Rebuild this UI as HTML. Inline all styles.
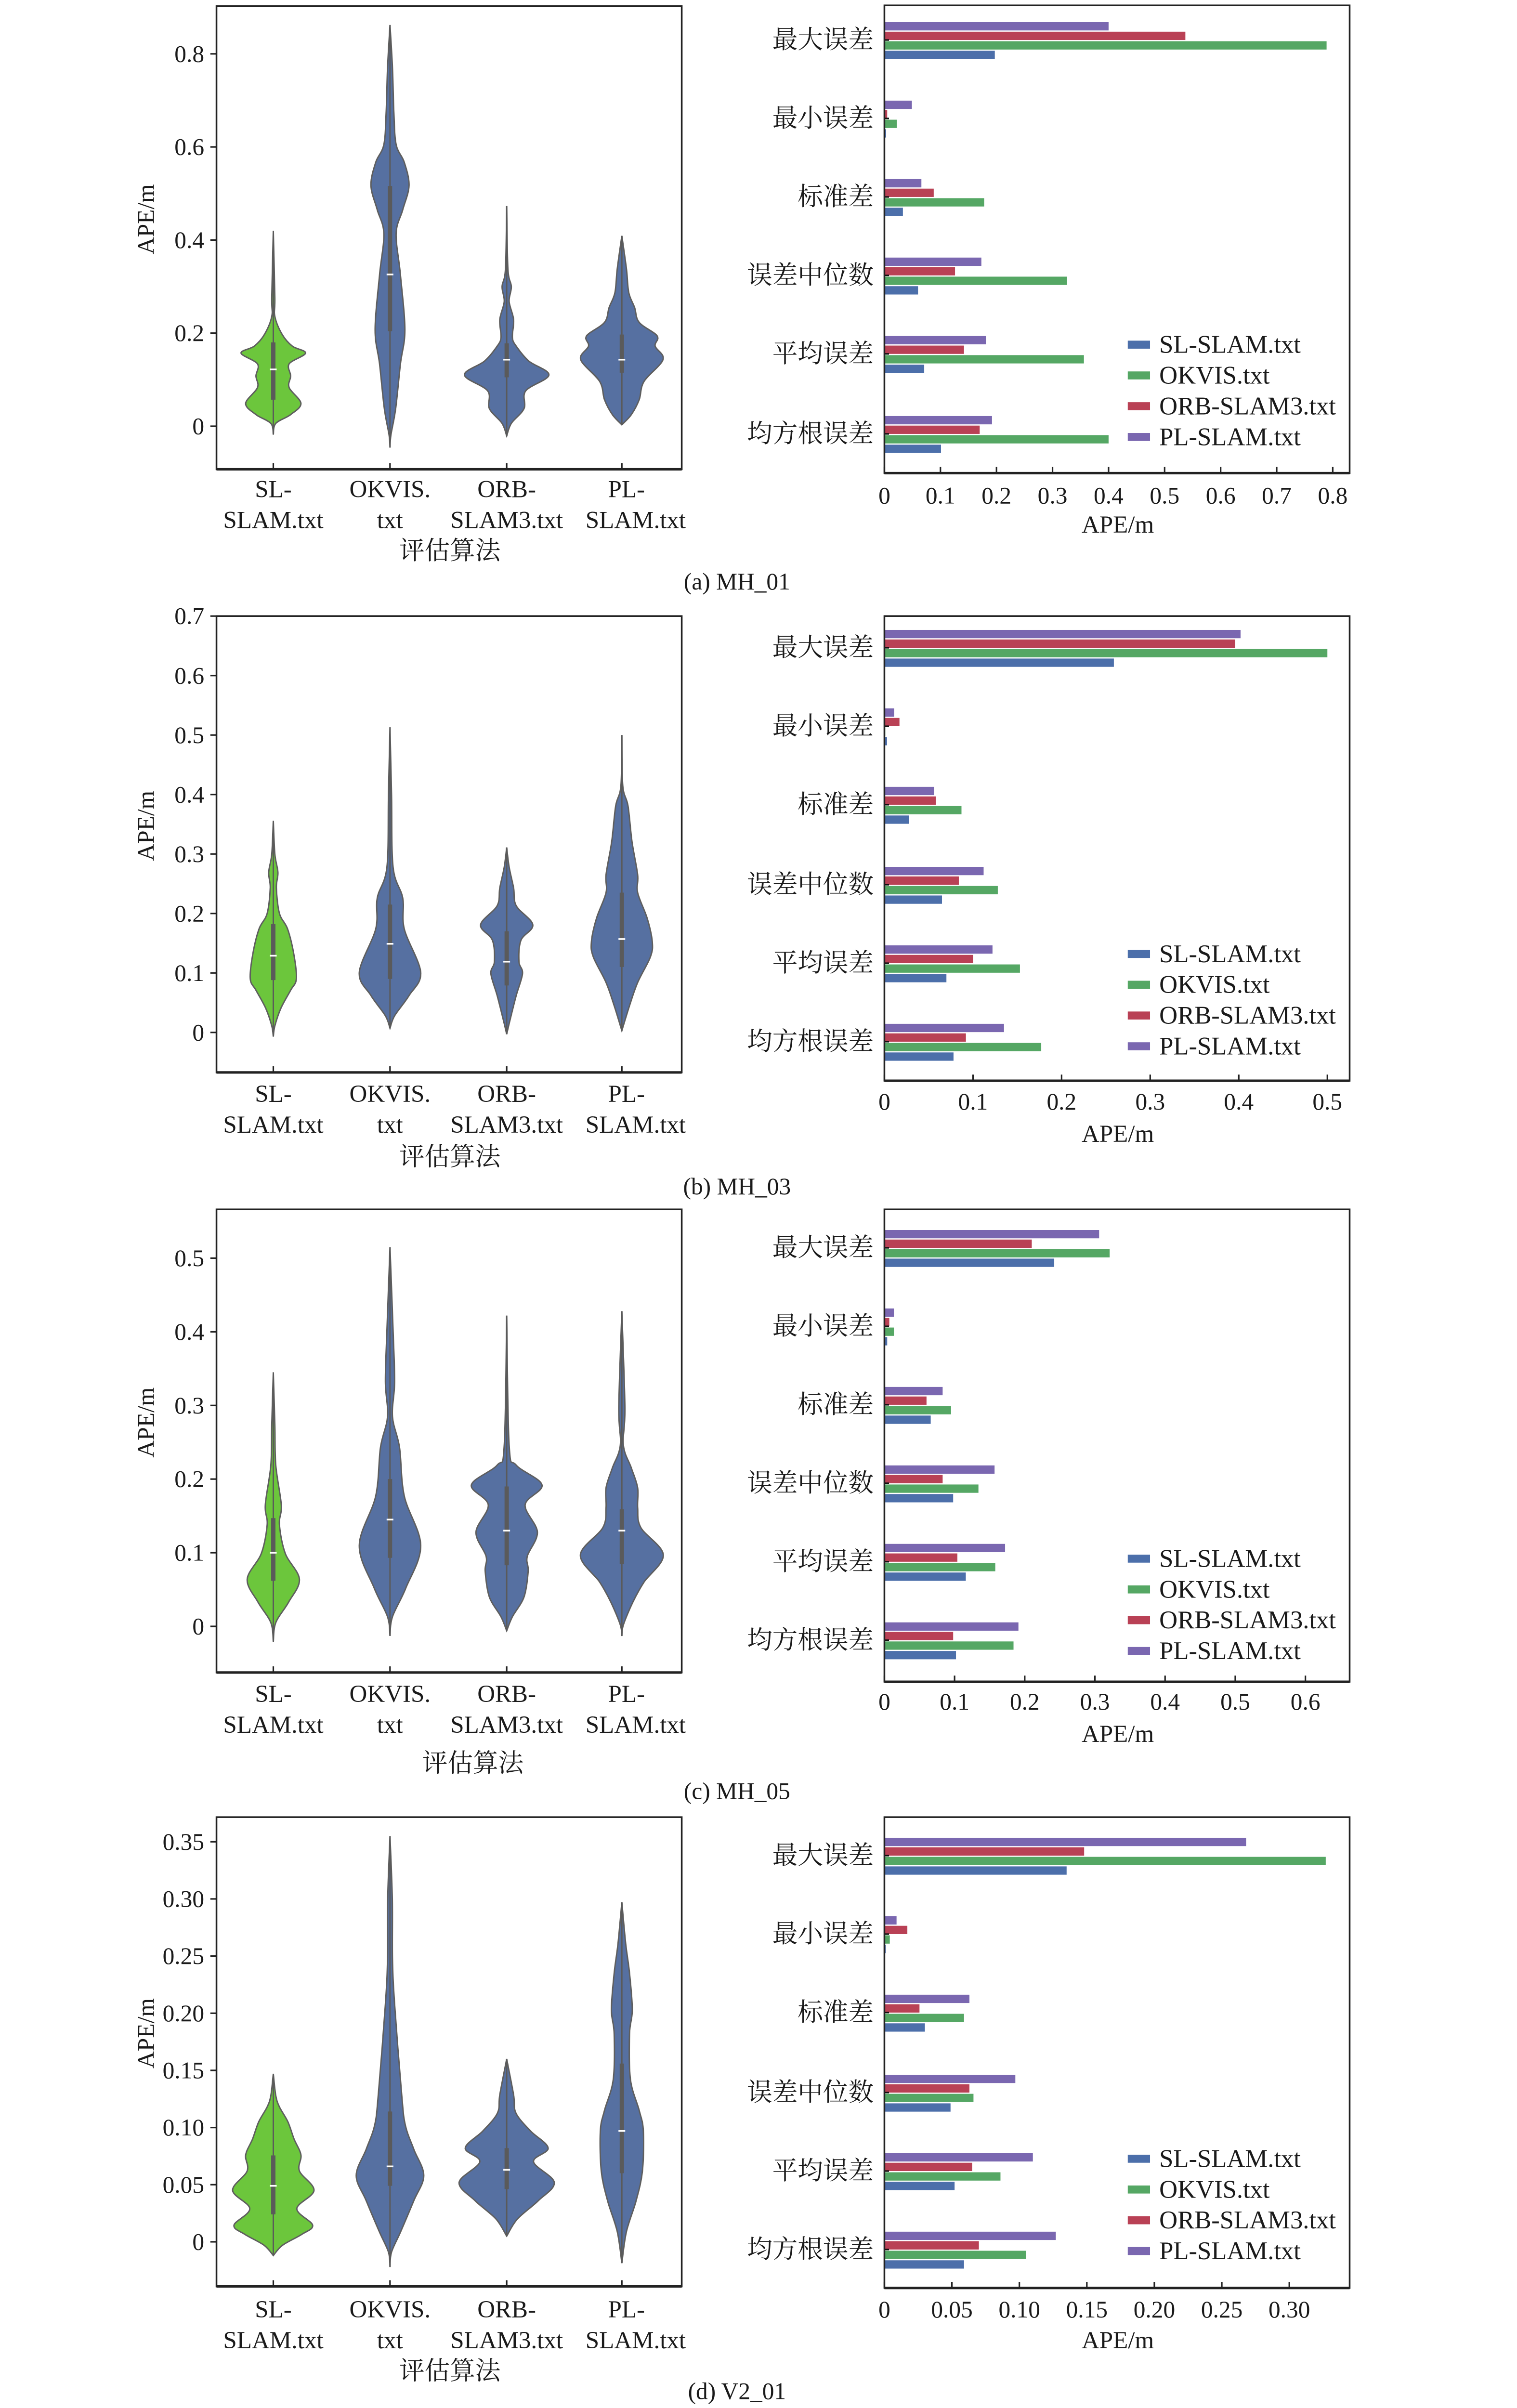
<!DOCTYPE html>
<html><head><meta charset="utf-8">
<style>
html,body{margin:0;padding:0;background:#fff;overflow:hidden;}
svg{display:block;position:fixed;left:0;top:0;width:100vw;height:100vh;}
text{font-family:"Liberation Serif","Noto Serif CJK SC","Noto Sans CJK SC",serif;fill:#1a1a1a;}
</style></head>
<body>
<svg id="fig" xmlns="http://www.w3.org/2000/svg" viewBox="0 0 988 1565" preserveAspectRatio="none"></svg>
<script>
// ---------- DATA ----------
const algorithms = ["SL-SLAM.txt","OKVIS.txt","ORB-SLAM3.txt","PL-SLAM.txt"];
const metricNames = ["最大误差","最小误差","标准差","误差中位数","平均误差","均方根误差"];
const panelCaptions = ["(a) MH_01","(b) MH_03","(c) MH_05","(d) V2_01"];

const barsA_SL    = [0.197,0.003,0.033,0.060,0.071,0.101];
const barsA_OKVIS = [0.789,0.022,0.178,0.326,0.356,0.400];
const barsA_ORB   = [0.537,0.005,0.088,0.126,0.142,0.170];
const barsA_PL    = [0.400,0.049,0.066,0.173,0.181,0.192];
const barsB_SL    = [0.259,0.003,0.028,0.065,0.070,0.078];
const barsB_OKVIS = [0.500,0.001,0.087,0.128,0.153,0.177];
const barsB_ORB   = [0.396,0.017,0.058,0.084,0.100,0.092];
const barsB_PL    = [0.402,0.011,0.056,0.112,0.122,0.135];
const barsC_SL    = [0.242,0.004,0.066,0.098,0.116,0.102];
const barsC_OKVIS = [0.321,0.0135,0.095,0.134,0.158,0.184];
const barsC_ORB   = [0.210,0.007,0.060,0.083,0.104,0.098];
const barsC_PL    = [0.306,0.0135,0.083,0.157,0.172,0.191];
const barsD_SL    = [0.135,0.001,0.030,0.049,0.052,0.059];
const barsD_OKVIS = [0.327,0.004,0.059,0.066,0.086,0.105];
const barsD_ORB   = [0.148,0.017,0.026,0.063,0.065,0.070];
const barsD_PL    = [0.268,0.009,0.063,0.097,0.110,0.127];

const vA_SL_v = [0.42,0.277,0.236,0.197,0.172,0.157,0.134,0.108,0.083,0.049,0.025,0.006,-0.018];
const vA_SL_w = [0,1,1,5.8,12.4,21,10.3,11.3,10.3,18,11.3,1.6,0];
const vA_OK_v = [0.862,0.77,0.675,0.605,0.567,0.517,0.465,0.414,0.325,0.207,0.134,0.038,-0.019,-0.046];
const vA_OK_w = [0,1.6,2.5,4,9.3,12.4,8.3,4,6.8,9.7,6.8,3.7,0.6,0];
const vA_ORB_v = [0.473,0.338,0.3,0.268,0.229,0.191,0.172,0.14,0.11,0.076,0.038,0.006,-0.021];
const vA_ORB_w = [0,0.8,3,1.6,4.5,3.7,6.2,14.4,27.5,12.4,11.3,3,0];
const vA_PL_v = [0.409,0.338,0.287,0.255,0.223,0.194,0.172,0.143,0.096,0.057,0.025,0.003];
const vA_PL_w = [0,3,4.5,8.3,11.3,23,21.7,26.8,14.4,11.3,6.2,0];

const vB_SL_v = [0.356,0.3,0.269,0.243,0.2,0.174,0.131,0.09,0.071,0.041,0.011,-0.007];
const vB_SL_w = [0,1,3,2,4,9.3,13.4,15,11.3,5,1,0];
const vB_OK_v = [0.513,0.4,0.278,0.226,0.174,0.101,0.062,0.028,0.007];
const vB_OK_w = [0,1,2,8.3,9.3,20,12.4,3,0];
const vB_ORB_v = [0.311,0.278,0.243,0.213,0.181,0.155,0.119,0.099,0.062,0.019,-0.003];
const vB_ORB_w = [0,1.6,4.5,6.2,17,9.3,8,10.3,6.2,2,0];
const vB_PL_v = [0.5,0.415,0.381,0.321,0.265,0.235,0.192,0.153,0.127,0.084,0.045,0.003];
const vB_PL_w = [0,0.6,4,6.6,10.3,10.3,16.5,19.8,18.6,10.3,5,0];

const vC_SL_v = [0.345,0.274,0.219,0.165,0.138,0.099,0.064,0.033,0.005,-0.021];
const vC_SL_w = [0,1,1.6,5.2,4,7.8,17,10,1.6,0];
const vC_OK_v = [0.515,0.402,0.332,0.285,0.243,0.177,0.11,0.052,0.013,-0.013];
const vC_OK_w = [0,2,3,1.6,6.2,9.3,20,10.3,1.6,0];
const vC_ORB_v = [0.422,0.246,0.219,0.192,0.165,0.128,0.095,0.075,0.04,0.013,-0.006];
const vC_ORB_w = [0,1.6,6.2,23,12,20,13.4,14,11.3,3.7,0];
const vC_PL_v = [0.428,0.297,0.246,0.215,0.188,0.161,0.134,0.097,0.06,0.033,0.002,-0.013];
const vC_PL_w = [0,2,1,6.2,10.3,10.3,12.4,27,14.4,7.2,1,0];

const vD_SL_v = [0.147,0.128,0.118,0.105,0.09,0.076,0.062,0.045,0.029,0.0146,0.0066,-0.003,-0.012];
const vD_SL_w = [0,1.6,4,9.5,13.5,18,17,26.5,15.3,25.6,18.6,6,0];
const vD_OK_v = [0.355,0.30,0.248,0.208,0.129,0.102,0.081,0.058,0.036,0.009,-0.009,-0.022];
const vD_OK_w = [0,1.5,1.6,3,7.6,10,15.5,22,15.5,7,1,0];
const vD_ORB_v = [0.16,0.1286,0.1127,0.097,0.082,0.070,0.052,0.036,0.020,0.005];
const vD_ORB_w = [0,4.5,6,15.5,27,17.5,31,20.6,7,0];
const vD_PL_v = [0.297,0.261,0.235,0.203,0.182,0.142,0.115,0.097,0.062,0.036,0.009,-0.0186];
const vD_PL_w = [0,2.5,5,6.8,5,5.6,11.3,14,13.4,9.3,3,0];

const medA = [0.122,0.326,0.143,0.143], q1A=[0.057,0.204,0.105,0.115], q3A=[0.18,0.516,0.178,0.197];
const medB = [0.129,0.149,0.119,0.157], q1B=[0.088,0.09,0.079,0.11], q3B=[0.182,0.215,0.17,0.235];
const medC = [0.10,0.145,0.13,0.13], q1C=[0.062,0.093,0.083,0.085], q3C=[0.147,0.20,0.19,0.159];
const medD = [0.049,0.066,0.063,0.097], q1D=[0.024,0.049,0.046,0.060], q3D=[0.0756,0.114,0.082,0.156];

const yTicksA = [0,0.2,0.4,0.6,0.8], yTickLabA = ["0","0.2","0.4","0.6","0.8"];
const yTicksB = [0,0.1,0.2,0.3,0.4,0.5,0.6,0.7], yTickLabB = ["0","0.1","0.2","0.3","0.4","0.5","0.6","0.7"];
const yTicksC = [0,0.1,0.2,0.3,0.4,0.5], yTickLabC = ["0","0.1","0.2","0.3","0.4","0.5"];
const yTicksD = [0,0.05,0.10,0.15,0.20,0.25,0.30,0.35], yTickLabD = ["0","0.05","0.10","0.15","0.20","0.25","0.30","0.35"];
const xTicksA = [0,0.1,0.2,0.3,0.4,0.5,0.6,0.7,0.8], xTickLabA = ["0","0.1","0.2","0.3","0.4","0.5","0.6","0.7","0.8"];
const xTicksB = [0,0.1,0.2,0.3,0.4,0.5], xTickLabB = ["0","0.1","0.2","0.3","0.4","0.5"];
const xTicksC = [0,0.1,0.2,0.3,0.4,0.5,0.6], xTickLabC = ["0","0.1","0.2","0.3","0.4","0.5","0.6"];
const xTicksD = [0,0.05,0.10,0.15,0.20,0.25,0.30], xTickLabD = ["0","0.05","0.10","0.15","0.20","0.25","0.30"];

// ---------- LAYOUT ----------
const NS="http://www.w3.org/2000/svg";
const svg=document.getElementById('fig');
const barColors=["#4c6faa","#55a764","#b94155","#7a67b0"];
const violinFill=["#6cc63c","#5670a1","#5670a1","#5670a1"];
const catX=[178,254,330,405];

function el(tag,attrs,parent){const e=document.createElementNS(NS,tag);for(const k in attrs)e.setAttribute(k,attrs[k]);(parent||svg).appendChild(e);return e;}
function txt(s,x,y,size,anchor,parent){const t=el('text',{x:x,y:y,'font-size':size,'text-anchor':anchor||'middle','dominant-baseline':'central'},parent);t.textContent=s;return t;}

const panels=[
 {vTop:4,vBot:305,bTop:3.5,bBot:307.5,y0:277,yMax:0.8,yMaxPx:35,x0:576,xMax:0.8,xMaxPx:868,yT:yTicksA,yL:yTickLabA,xT:xTicksA,xL:xTickLabA,
  cats:[26,77,128,179,230,282],leg:224,lab1:318,lab2:338,lab3:358,lab3x:293,xlab:322,xtitle:341,cap:378,
  bars:[barsA_SL,barsA_OKVIS,barsA_ORB,barsA_PL],vv:[vA_SL_v,vA_OK_v,vA_ORB_v,vA_PL_v],vw:[vA_SL_w,vA_OK_w,vA_ORB_w,vA_PL_w],med:medA,q1:q1A,q3:q3A},
 {vTop:400.4,vBot:697,bTop:400.4,bBot:702.4,y0:671,yMax:0.7,yMaxPx:400.4,x0:576,xMax:0.5,xMaxPx:864.5,yT:yTicksB,yL:yTickLabB,xT:xTicksB,xL:xTickLabB,
  cats:[421,472,523,575,626,677],leg:620,lab1:711,lab2:731,lab3:752,lab3x:293,xlab:716,xtitle:737,cap:771,
  bars:[barsB_SL,barsB_OKVIS,barsB_ORB,barsB_PL],vv:[vB_SL_v,vB_OK_v,vB_ORB_v,vB_PL_v],vw:[vB_SL_w,vB_OK_w,vB_ORB_w,vB_PL_w],med:medB,q1:q1B,q3:q3B},
 {vTop:786,vBot:1087,bTop:786,bBot:1093,y0:1057,yMax:0.5,yMaxPx:817.7,x0:576,xMax:0.6,xMaxPx:850.2,yT:yTicksC,yL:yTickLabC,xT:xTicksC,xL:xTickLabC,
  cats:[811,862,913,964,1015,1066],leg:1013,lab1:1101,lab2:1121,lab3:1146,lab3x:308,xlab:1106,xtitle:1127,cap:1164,
  bars:[barsC_SL,barsC_OKVIS,barsC_ORB,barsC_PL],vv:[vC_SL_v,vC_OK_v,vC_ORB_v,vC_PL_v],vw:[vC_SL_w,vC_OK_w,vC_ORB_w,vC_PL_w],med:medC,q1:q1C,q3:q3C},
 {vTop:1181,vBot:1486,bTop:1181,bBot:1487,y0:1457,yMax:0.35,yMaxPx:1197,x0:576,xMax:0.30,xMaxPx:839.7,yT:yTicksD,yL:yTickLabD,xT:xTicksD,xL:xTickLabD,
  cats:[1206,1257,1308,1360,1411,1462],leg:1403,lab1:1501,lab2:1521,lab3:1541,lab3x:293,xlab:1501,xtitle:1521,cap:1554,
  bars:[barsD_SL,barsD_OKVIS,barsD_ORB,barsD_PL],vv:[vD_SL_v,vD_OK_v,vD_ORB_v,vD_PL_v],vw:[vD_SL_w,vD_OK_w,vD_ORB_w,vD_PL_w],med:medD,q1:q1D,q3:q3D}
];
const VL=141,VR=444,BL=576,BR=879;
const lab1=["SL-","OKVIS.","ORB-","PL-"], lab2=["SLAM.txt","txt","SLAM3.txt","SLAM.txt"];

function smoothPath(pts){
  let d="M"+pts[0][0].toFixed(2)+","+pts[0][1].toFixed(2);
  for(let i=0;i<pts.length-1;i++){
    const p0=pts[Math.max(0,i-1)],p1=pts[i],p2=pts[i+1],p3=pts[Math.min(pts.length-1,i+2)];
    const c1=[p1[0]+(p2[0]-p0[0])/6,p1[1]+(p2[1]-p0[1])/6];
    const c2=[p2[0]-(p3[0]-p1[0])/6,p2[1]-(p3[1]-p1[1])/6];
    d+="C"+c1[0].toFixed(2)+","+c1[1].toFixed(2)+" "+c2[0].toFixed(2)+","+c2[1].toFixed(2)+" "+p2[0].toFixed(2)+","+p2[1].toFixed(2);
  }
  return d;
}

panels.forEach((P,pi)=>{
  const g=el('g',{});
  
  
  const yS=v=>P.y0-(P.y0-P.yMaxPx)*v/P.yMax;
  const xS=v=>P.x0+(P.xMaxPx-P.x0)*v/P.xMax;

  const vg=el('g',{},g);
  
  
  for(let a=0;a<4;a++){
    const cx=catX[a], vs=P.vv[a], ws=P.vw[a];
    const right=vs.map((v,i)=>[cx+ws[i],yS(v)]);
    const left=vs.map((v,i)=>[cx-ws[i],yS(v)]).reverse();
    const d=smoothPath(right)+" L"+smoothPath(left).slice(1)+"Z";
    const vp=el('path',{d:d,fill:violinFill[a],stroke:"#5e5e5e",'stroke-width':0.9},vg);
    
    
    const wl=el('line',{x1:cx,x2:cx,y1:yS(vs[0]),y2:yS(vs[vs.length-1]),stroke:"#5a5a5a",'stroke-width':0.9},vg);
    
    
    const bx=el('line',{x1:cx,x2:cx,y1:yS(P.q3[a]),y2:yS(P.q1[a]),stroke:"#5a5a5a",'stroke-width':2.8},vg);
    
    
    const md=el('line',{x1:cx-2.2,x2:cx+2.2,y1:yS(P.med[a]),y2:yS(P.med[a]),stroke:"#fff",'stroke-width':1.1},vg);
    
    
  }
  const vb=el('rect',{x:VL,y:P.vTop,width:VR-VL,height:P.vBot-P.vTop,fill:"none",stroke:"#222",'stroke-width':1.1},vg);
  
  
  el('line',{x1:VL,x2:VR,y1:P.vBot,y2:P.vBot,stroke:"#222",'stroke-width':1.6},vg);
  P.yT.forEach((t,i)=>{
    el('line',{x1:VL-4,x2:VL,y1:yS(t),y2:yS(t),stroke:"#222",'stroke-width':1},vg);
    const tl=txt(P.yL[i],VL-8,yS(t),15.5,'end',vg);
    
    
  });
  for(let a=0;a<4;a++){
    el('line',{x1:catX[a],x2:catX[a],y1:P.vBot,y2:P.vBot-4,stroke:"#222",'stroke-width':1},vg);
    const l1=txt(lab1[a],catX[a]+(a==3?3:0),P.lab1,16,'middle',vg);
    
    
    const l2=txt(lab2[a],catX[a]+(a==3?9:0),P.lab2,16,'middle',vg);
    
    
  }
  const xt=txt("评估算法",P.lab3x,P.lab3,16.5,'middle',vg);
  
  
  const yt=txt("APE/m",95,(P.vTop+P.vBot)/2-12,15.5,'middle',vg);
  yt.setAttribute('transform','rotate(-90 95 '+((P.vTop+P.vBot)/2-12)+')');
  
  

  const bg=el('g',{},g);
  
  
  const offs=[7,0.8,-5.4,-11.6];
  for(let m=0;m<6;m++){
    const c=P.cats[m];
    for(let a=0;a<4;a++){
      const v=P.bars[a][m];
      const r=el('rect',{x:xS(0),y:c+offs[a],width:Math.max(0.4,xS(v)-xS(0)),height:5.4,fill:barColors[a]},bg);
      
      
    }
    el('line',{x1:BL,x2:BL+3,y1:c,y2:c,stroke:"#111",'stroke-width':1},bg);
    const cl=txt(metricNames[m],BL-7,c,16.5,'end',bg);
    
    
  }
  const bb=el('rect',{x:BL,y:P.bTop,width:BR-BL,height:P.bBot-P.bTop,fill:"none",stroke:"#222",'stroke-width':1.1},bg);
  
  
  el('line',{x1:BL,x2:BR,y1:P.bBot,y2:P.bBot,stroke:"#222",'stroke-width':1.6},bg);
  P.xT.forEach((t,i)=>{
    el('line',{x1:xS(t),x2:xS(t),y1:P.bBot,y2:P.bBot-4,stroke:"#222",'stroke-width':1},bg);
    const tl=txt(P.xL[i],xS(t),P.xlab,15.5,'middle',bg);
    
    
  });
  const at=txt("APE/m",728,P.xtitle,16,'middle',bg);
  
  
  const lg=el('g',{},bg);
  
  
  for(let a=0;a<4;a++){
    const ly=P.leg+a*20;
    el('rect',{x:734.5,y:ly-2.6,width:14.5,height:5.2,fill:barColors[a]},lg);
    const lt=txt(algorithms[a],755,ly,16.5,'start',lg);
    
    
  }
  const cap=txt(panelCaptions[pi],480,P.cap,15.5,'middle',g);
  
  
});
</script>
</body></html>
